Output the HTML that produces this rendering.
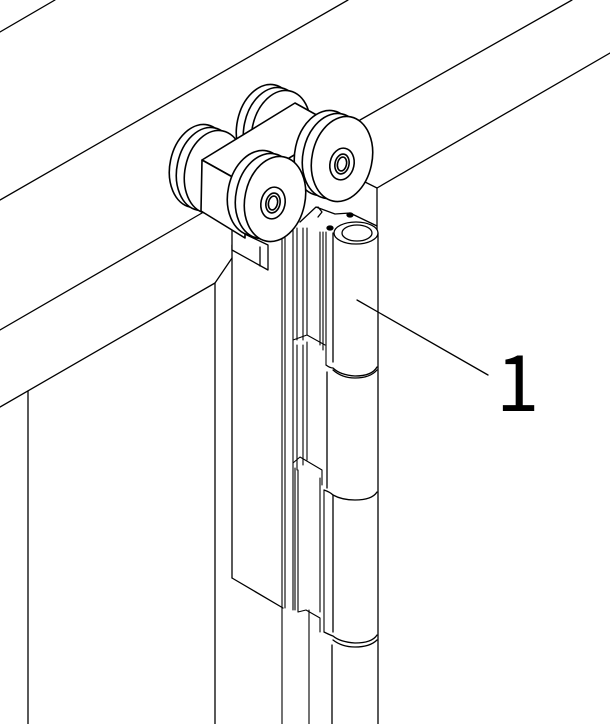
<!DOCTYPE html>
<html><head><meta charset="utf-8"><style>html,body{margin:0;padding:0;background:#fff}svg{display:block}.lbl{font-family:"Noto Sans CJK JP","Liberation Sans",sans-serif;font-size:78px}</style></head>
<body>
<svg width="610" height="724" viewBox="0 0 610 724" xmlns="http://www.w3.org/2000/svg" fill="none" stroke="#000" stroke-width="1.3" stroke-linejoin="round" stroke-linecap="round">
<line x1="0" y1="32" x2="55" y2="0"/>
<line x1="0" y1="200" x2="348" y2="0"/>
<line x1="0" y1="330" x2="202" y2="213"/>
<polyline points="0,407 215,283 232,258"/>
<line x1="28" y1="391" x2="28" y2="724"/>
<line x1="215" y1="283" x2="215" y2="724"/>
<line x1="232" y1="245" x2="232" y2="578"/>
<line x1="360" y1="120" x2="572" y2="0"/>
<line x1="377" y1="188" x2="610" y2="53"/>
<line x1="377" y1="188" x2="377" y2="232"/>
<line x1="365" y1="182" x2="377" y2="188"/>
<polyline points="232,578 283,608"/>
<g stroke-width="1.1">
<line x1="282" y1="228" x2="282" y2="724"/>
<line x1="285" y1="228" x2="285" y2="608"/>
<line x1="293" y1="228" x2="293" y2="610"/>
<line x1="297" y1="228" x2="297" y2="340"/>
<line x1="303" y1="228" x2="303" y2="340"/>
<line x1="307" y1="228" x2="307" y2="335"/>
<line x1="309" y1="610" x2="309" y2="724"/>
<line x1="320" y1="232" x2="320" y2="345"/>
<line x1="323" y1="232" x2="323" y2="350"/>
<line x1="326" y1="232" x2="326" y2="365"/>
<polyline points="293,340 307,335 325,345"/>
<line x1="303" y1="345" x2="303" y2="465"/>
<line x1="307" y1="342" x2="307" y2="460"/>
<line x1="297" y1="345" x2="297" y2="470"/>
<polyline points="293,463 300,457 322,470 322,485"/>
<line x1="295" y1="468" x2="295" y2="610"/>
<line x1="298" y1="470" x2="298" y2="612"/>
<line x1="320" y1="478" x2="320" y2="612"/>
<polyline points="298,612 306,610 320,618 320,632"/>
<line x1="324" y1="490" x2="324" y2="632"/>
</g>
<line x1="333" y1="233" x2="333" y2="362"/>
<line x1="378" y1="233" x2="378" y2="724"/>
<path d="M326,365 Q330,368 333,368 Q340,375 355,376 Q372,376 377,367"/>
<path d="M333,370 Q342,378 355,378 Q370,378 377,370"/>
<line x1="327" y1="372" x2="327" y2="488"/>
<path d="M324,490 Q330,492 333,495 Q342,500 355,500 Q372,500 377,492"/>
<line x1="333" y1="495" x2="333" y2="632"/>
<path d="M324,632 Q330,635 333,636 Q340,642 355,643 Q372,643 377,635"/>
<path d="M333,640 Q342,647 355,647 Q370,647 377,640"/>
<line x1="332" y1="645" x2="332" y2="724"/>
<polyline points="300,222 316,207 335,214 350,213 377,226"/>
<path d="M318,207 L322,212 L318,217" />
<ellipse cx="356" cy="233" rx="22" ry="11" fill="#fff"/>
<ellipse cx="357" cy="233" rx="15" ry="8"/>
<ellipse cx="350" cy="215" rx="3" ry="2" fill="#000"/>
<ellipse cx="330" cy="228" rx="3" ry="2" fill="#000"/>
<line x1="357" y1="300" x2="488" y2="375"/>
<text class="lbl" x="496" y="411" fill="#000" stroke="none">1</text>
<polygon points="232,228 268,245 268,270 232,250" fill="#fff"/>
<line x1="260" y1="247" x2="260" y2="266"/>
<g fill="#fff" stroke-width="1.6">
<ellipse cx="266" cy="126" rx="29" ry="42" transform="rotate(12 266 126)"/>
<ellipse cx="273" cy="129" rx="29" ry="42" transform="rotate(12 273 129)"/>
<ellipse cx="281" cy="132" rx="29" ry="42" transform="rotate(12 281 132)"/>
<ellipse cx="199" cy="166" rx="29" ry="42" transform="rotate(12 199 166)"/>
<ellipse cx="206" cy="169" rx="29" ry="42" transform="rotate(12 206 169)"/>
<ellipse cx="214" cy="172" rx="29" ry="42" transform="rotate(12 214 172)"/>
<polygon points="202,160 295,103 340,128 245,184" />
<polygon points="202,160 245,184 245,238 201,211"/>
<ellipse cx="325" cy="153" rx="30" ry="43" transform="rotate(12 325 153)"/>
<ellipse cx="333" cy="156" rx="30" ry="43" transform="rotate(12 333 156)"/>
<ellipse cx="342" cy="159" rx="30" ry="43" transform="rotate(12 342 159)"/>
<ellipse cx="342" cy="164" rx="12" ry="16" transform="rotate(12 342 164)"/>
<ellipse cx="342" cy="164" rx="7" ry="10" transform="rotate(12 342 164)"/>
<ellipse cx="342" cy="164" rx="4.5" ry="7" transform="rotate(12 342 164)"/>
<ellipse cx="258" cy="193" rx="30" ry="43" transform="rotate(12 258 193)"/>
<ellipse cx="266" cy="196" rx="30" ry="43" transform="rotate(12 266 196)"/>
<ellipse cx="275" cy="199" rx="30" ry="43" transform="rotate(12 275 199)"/>
<ellipse cx="273" cy="203" rx="12" ry="16" transform="rotate(12 273 203)"/>
<ellipse cx="273" cy="203" rx="7" ry="10" transform="rotate(12 273 203)"/>
<ellipse cx="273" cy="203" rx="4.5" ry="7" transform="rotate(12 273 203)"/>
</g>
</svg>
</body></html>
